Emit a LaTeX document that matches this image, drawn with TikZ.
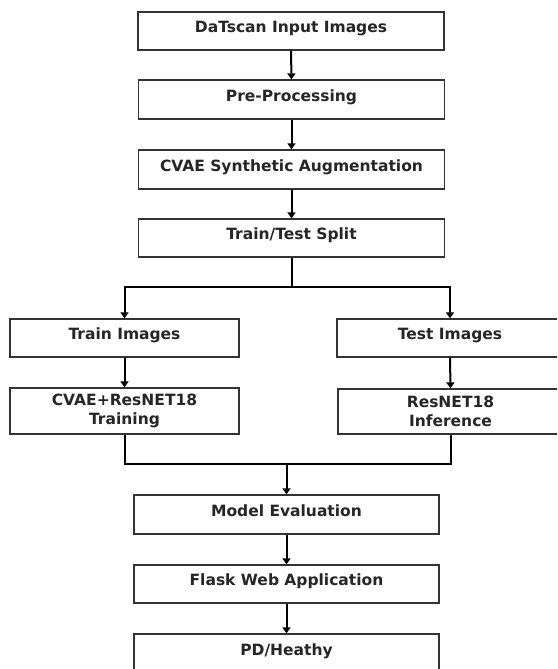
\documentclass[tikz,border=0pt]{standalone}
\usepackage{fontspec}
\setmainfont{DejaVu Sans}
\usetikzlibrary{arrows.meta,calc}
\begin{document}
\begin{tikzpicture}[x=1pt,y=-1pt,
  box/.style={draw=black!80,line width=1.3pt,fill=white,inner sep=0pt,
    minimum width=306pt,minimum height=38pt,
    font=\fontsize{15.5}{17}\selectfont\bfseries,text=black!85,
    text height=12pt,text depth=9pt},
  twobox/.style={draw=black!80,line width=1.3pt,fill=white,inner sep=0pt,
    minimum height=46pt,align=center,
    font=\fontsize{15.5}{17}\selectfont\bfseries,text=black!85},
  conn/.style={line width=2pt,black},
  arr/.style={conn,-{Triangle[width=8pt,length=6pt]}}]
\clip (0,0) rectangle (557,669);
\fill[white] (0,0) rectangle (557,669);

\node[box] (b1) at (291,31) {DaTscan Input Images};
\node[box,minimum height=39pt] (b2) at (291.5,99.5) {Pre-Processing};
\node[box,minimum height=39pt] (b3) at (291.5,169.5) {CVAE Synthetic Augmentation};
\node[box] (b4) at (291.5,238) {Train/Test Split};

\node[box,minimum width=229pt] (tr) at (124.5,338) {Train Images};
\node[box,minimum width=226pt] (te) at (450,338) {Test Images};
\node[twobox,minimum width=229pt] (cv) at (124.5,411) {CVAE+ResNET18\\[2pt]Training};
\node[twobox,minimum width=225pt,minimum height=45pt] (rn) at (450.5,411.5) {ResNET18\\[2pt]Inference};

\node[box,minimum width=305pt,minimum height=39pt] (me) at (286.5,514.5) {Model Evaluation};
\node[box,minimum width=305pt] (fl) at (286.5,584) {Flask Web Application};
\node[box,minimum width=305pt,minimum height=39pt] (pd) at (286.5,653.5) {PD/Heathy};

\draw[arr] (b1.south) -- (b2.north);
\draw[arr] (b2.south) -- (b3.north);
\draw[arr] (b3.south) -- (b4.north);

\coordinate (s) at ($(b4.south)+(0,29)$);
\draw[conn] (b4.south) -- (s);
\draw[arr] (s) -| (tr.north);
\draw[arr] (s) -| (te.north);

\draw[arr] (tr.south) -- (cv.north);
\draw[arr] (te.south) -- (rn.north);

\coordinate (m) at ($(me.north)+(0,-30)$);
\draw[conn] (cv.south) |- (m);
\draw[conn] (rn.south) |- (m);
\draw[arr] (m) -- (me.north);
\draw[arr] (me.south) -- (fl.north);
\draw[arr] (fl.south) -- (pd.north);
\end{tikzpicture}
\end{document}
